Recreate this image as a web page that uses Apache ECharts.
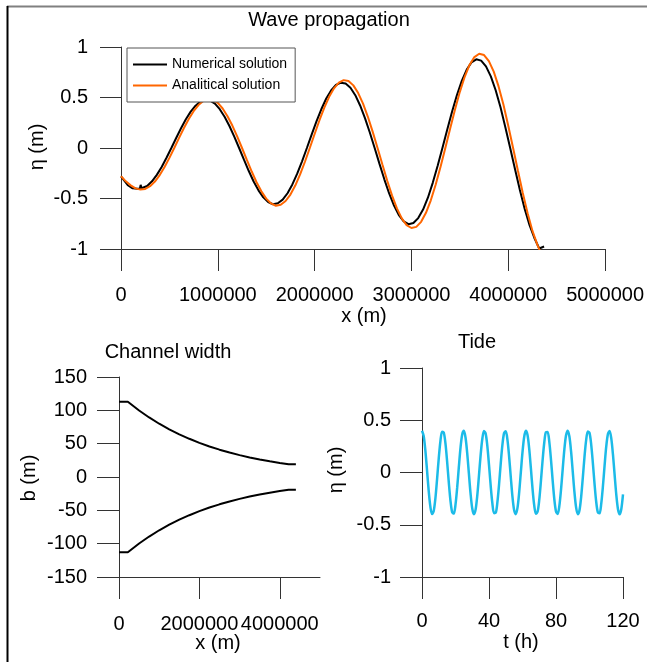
<!DOCTYPE html>
<html>
<head>
<meta charset="utf-8">
<script src="https://cdn.jsdelivr.net/npm/echarts@6/dist/echarts.min.js"></script>
<style>
html, body { margin: 0; padding: 0; background: #fff; }
#chart { width: 647px; height: 662px; }
</style>
</head>
<body>
<div id="chart"></div>
<script>
// Wave along the channel: analytical solution (x in m, eta in m)
const analyticX = [0,50000,100000,150000,200000,250000,300000,350000,400000,450000,500000,550000,600000,650000,700000,750000,800000,850000,900000,950000,1000000,1050000,1100000,1150000,1200000,1250000,1300000,1350000,1400000,1450000,1500000,1550000,1600000,1650000,1700000,1750000,1800000,1850000,1900000,1950000,2000000,2050000,2100000,2150000,2200000,2250000,2300000,2350000,2400000,2450000,2500000,2550000,2600000,2650000,2700000,2750000,2800000,2850000,2900000,2950000,3000000,3050000,3100000,3150000,3200000,3250000,3300000,3350000,3400000,3450000,3500000,3550000,3600000,3650000,3700000,3750000,3800000,3850000,3900000,3950000,4000000,4050000,4100000,4150000,4200000,4250000,4300000,4350000];
const analyticEta = [-0.280,-0.330,-0.370,-0.400,-0.412,-0.405,-0.378,-0.332,-0.268,-0.189,-0.098,0.000,0.100,0.198,0.287,0.364,0.425,0.465,0.480,0.475,0.446,0.391,0.315,0.222,0.115,0.000,-0.118,-0.233,-0.339,-0.429,-0.501,-0.549,-0.572,-0.562,-0.525,-0.461,-0.372,-0.262,-0.136,0.000,0.139,0.275,0.400,0.507,0.591,0.647,0.672,0.663,0.620,0.544,0.439,0.309,0.160,0.000,-0.164,-0.324,-0.471,-0.598,-0.697,-0.763,-0.792,-0.781,-0.731,-0.642,-0.518,-0.364,-0.189,0.000,0.194,0.382,0.556,0.705,0.822,0.900,0.933,0.920,0.860,0.756,0.610,0.430,0.220,0.000,-0.225,-0.445,-0.647,-0.821,-0.957,-1.070];

// Wave along the channel: numerical solution
const numericX = [0,70000,120000,170000,195000,203000,212000,220000,270000,320000,370000,420000,470000,520000,570000,620000,670000,720000,770000,820000,870000,920000,970000,1020000,1070000,1120000,1170000,1220000,1270000,1320000,1370000,1420000,1470000,1520000,1570000,1620000,1670000,1720000,1770000,1820000,1870000,1920000,1970000,2020000,2070000,2120000,2170000,2220000,2270000,2320000,2370000,2420000,2470000,2520000,2570000,2620000,2670000,2720000,2770000,2820000,2870000,2920000,2970000,3020000,3070000,3120000,3170000,3220000,3270000,3320000,3370000,3420000,3470000,3520000,3570000,3620000,3670000,3720000,3770000,3820000,3870000,3920000,3970000,4020000,4070000,4120000,4170000,4220000,4270000,4320000,4340000,4370000];
const numericEta = [-0.280,-0.369,-0.399,-0.403,-0.400,-0.365,-0.398,-0.398,-0.376,-0.330,-0.266,-0.188,-0.097,0.000,0.099,0.196,0.284,0.360,0.419,0.459,0.473,0.468,0.439,0.384,0.309,0.218,0.113,0.000,-0.116,-0.228,-0.332,-0.419,-0.489,-0.535,-0.557,-0.547,-0.511,-0.448,-0.361,-0.254,-0.132,0.000,0.135,0.266,0.386,0.490,0.570,0.624,0.647,0.638,0.596,0.523,0.421,0.296,0.153,0.000,-0.157,-0.310,-0.450,-0.570,-0.665,-0.727,-0.754,-0.743,-0.694,-0.610,-0.492,-0.345,-0.179,0.000,0.184,0.361,0.525,0.665,0.774,0.848,0.878,0.865,0.808,0.709,0.572,0.403,0.206,0.000,-0.210,-0.416,-0.604,-0.765,-0.891,-0.995,-1.000,-0.975];

// Channel banks (b in m)
const channelX = [0,220000,500000,750000,1000000,1250000,1500000,1750000,2000000,2250000,2500000,2750000,3000000,3250000,3500000,3750000,4000000,4220000,4400000];
const upperBank = [113,113,99.8,89.3,79.9,71.5,64.0,57.3,51.2,45.8,41.0,36.7,32.8,29.4,26.3,23.5,21.1,19.1,19.1];
const lowerBank = [-113,-113,-99.8,-89.3,-79.9,-71.5,-64.0,-57.3,-51.2,-45.8,-41.0,-36.7,-32.8,-29.4,-26.3,-23.5,-21.1,-19.1,-19.1];

// Tide at the mouth (t in h, eta in m)
const tideT = [0,1,2,3,4,5,6,7,8,9,10,11,12,13,14,15,16,17,18,19,20,21,22,23,24,25,26,27,28,29,30,31,32,33,34,35,36,37,38,39,40,41,42,43,44,45,46,47,48,49,50,51,52,53,54,55,56,57,58,59,60,61,62,63,64,65,66,67,68,69,70,71,72,73,74,75,76,77,78,79,80,81,82,83,84,85,86,87,88,89,90,91,92,93,94,95,96,97,98,99,100,101,102,103,104,105,106,107,108,109,110,111,112,113,114,115,116,117,118,119,120];
const tideEta = [0.400,0.350,0.212,0.021,-0.175,-0.327,-0.398,-0.368,-0.247,-0.063,0.136,0.301,0.391,0.383,0.279,0.105,-0.095,-0.271,-0.380,-0.393,-0.308,-0.145,0.053,0.239,0.364,0.399,0.333,0.184,-0.011,-0.203,-0.345,-0.400,-0.355,-0.221,-0.031,0.166,0.321,0.397,0.372,0.255,0.073,-0.126,-0.294,-0.389,-0.386,-0.286,-0.115,0.085,0.264,0.377,0.395,0.314,0.155,-0.043,-0.231,-0.360,-0.399,-0.339,-0.193,0.001,0.195,0.340,0.399,0.359,0.229,0.041,-0.157,-0.315,-0.395,-0.376,-0.262,-0.083,0.117,0.287,0.386,0.388,0.293,0.124,-0.075,-0.256,-0.373,-0.396,-0.320,-0.164,0.033,0.222,0.356,0.400,0.344,0.202,0.009,-0.186,-0.334,-0.399,-0.364,-0.237,-0.051,0.147,0.309,0.393,0.379,0.270,0.093,-0.107,-0.280,-0.383,-0.391,-0.300,-0.134,0.065,0.249,0.369,0.398,0.326,0.173,-0.023,-0.214,-0.351,-0.400,-0.349,-0.210];

const channelTicksX = [0,2000000,4000000];

const FONT = '"Liberation Sans", Arial, Helvetica, sans-serif';
const TICK_FONT = 20;
const AXIS_COLOR = '#333';

const zip = (xs, ys) => xs.map((x, i) => [x, ys[i]]);

function valueAxis(opts) {
  return Object.assign({
    type: 'value',
    axisLine: { show: true, onZero: false, lineStyle: { color: AXIS_COLOR, width: 1 } },
    axisTick: { show: true, inside: false, length: 22, lineStyle: { color: AXIS_COLOR, width: 1 } },
    splitLine: { show: false },
    axisLabel: { color: '#000', fontSize: TICK_FONT, fontFamily: FONT, margin: 33 }
  }, opts);
}

const tickLabel = (margin, extra) => Object.assign({ color: '#000', fontSize: TICK_FONT, fontFamily: FONT, margin: margin }, extra || {});
const plain = v => String(v);

const chart = echarts.init(document.getElementById('chart'), null, { renderer: 'canvas' });

chart.setOption({
  animation: false,
  backgroundColor: '#fff',
  grid: [
    { left: 121, top: 47, width: 485, height: 202 },
    { left: 119, top: 377, width: 201, height: 200 },
    { left: 422, top: 368, width: 201, height: 209 }
  ],
  xAxis: [
    valueAxis({ gridIndex: 0, min: 0, max: 5000000, interval: 1000000,
      axisLabel: tickLabel(36, { formatter: plain }) }),
    valueAxis({ gridIndex: 1, min: 0, max: 5000000,
      axisTick: { show: true, inside: false, length: 22, customValues: channelTicksX, lineStyle: { color: AXIS_COLOR, width: 1 } },
      axisLabel: tickLabel(37, { customValues: channelTicksX, formatter: plain }) }),
    valueAxis({ gridIndex: 2, min: 0, max: 120, interval: 40,
      axisLabel: tickLabel(34) })
  ],
  yAxis: [
    valueAxis({ gridIndex: 0, min: -1, max: 1, interval: 0.5,
      axisTick: { show: true, inside: false, length: 21, lineStyle: { color: AXIS_COLOR, width: 1 } },
      axisLabel: tickLabel(33) }),
    valueAxis({ gridIndex: 1, min: -150, max: 150, interval: 50,
      axisLabel: tickLabel(32) }),
    valueAxis({ gridIndex: 2, min: -1, max: 1, interval: 0.5,
      axisLabel: tickLabel(31) })
  ],
  legend: {
    data: ['Numerical solution', 'Analitical solution'],
    orient: 'vertical',
    left: 127,
    top: 48,
    padding: [8, 8, 8, 6],
    itemGap: 4,
    itemWidth: 34,
    itemHeight: 2,
    icon: 'rect',
    borderColor: '#555',
    borderWidth: 1,
    backgroundColor: '#fff',
    textStyle: { fontSize: 14, lineHeight: 17, fontFamily: FONT, color: '#000' }
  },
  series: [
    { name: 'Numerical solution', type: 'line', xAxisIndex: 0, yAxisIndex: 0,
      data: zip(numericX, numericEta), symbol: 'none', color: '#000',
      lineStyle: { color: '#000', width: 2 } },
    { name: 'Analitical solution', type: 'line', xAxisIndex: 0, yAxisIndex: 0,
      data: zip(analyticX, analyticEta), symbol: 'none', color: '#ff6600',
      lineStyle: { color: '#ff6600', width: 2 } },
    { name: 'upper bank', type: 'line', xAxisIndex: 1, yAxisIndex: 1,
      data: zip(channelX, upperBank), symbol: 'none',
      lineStyle: { color: '#000', width: 2 } },
    { name: 'lower bank', type: 'line', xAxisIndex: 1, yAxisIndex: 1,
      data: zip(channelX, lowerBank), symbol: 'none',
      lineStyle: { color: '#000', width: 2 } },
    { name: 'tide', type: 'line', xAxisIndex: 2, yAxisIndex: 2,
      data: zip(tideT, tideEta), symbol: 'none', smooth: 0.3,
      lineStyle: { color: '#1cbbe8', width: 2.5 } }
  ],
  graphic: [
    // frame edges
    { type: 'line', silent: true, shape: { x1: 7, y1: 6.5, x2: 647, y2: 6.5 }, style: { stroke: '#808080', lineWidth: 2 } },
    { type: 'line', silent: true, shape: { x1: 7.5, y1: 6, x2: 7.5, y2: 662 }, style: { stroke: '#000', lineWidth: 2 } },
    // panel titles
    { type: 'text', x: 329, y: 20, style: { text: 'Wave propagation', font: '20px ' + FONT, fill: '#000', align: 'center', verticalAlign: 'middle' } },
    { type: 'text', x: 168, y: 352, style: { text: 'Channel width', font: '20px ' + FONT, fill: '#000', align: 'center', verticalAlign: 'middle' } },
    { type: 'text', x: 477, y: 342, style: { text: 'Tide', font: '20px ' + FONT, fill: '#000', align: 'center', verticalAlign: 'middle' } },
    // axis names
    { type: 'text', x: 364, y: 316, style: { text: 'x (m)', font: '20px ' + FONT, fill: '#000', align: 'center', verticalAlign: 'middle' } },
    { type: 'text', x: 37, y: 147, rotation: Math.PI / 2, style: { text: 'η (m)', font: '20px ' + FONT, fill: '#000', align: 'center', verticalAlign: 'middle' } },
    { type: 'text', x: 218, y: 643, style: { text: 'x (m)', font: '20px ' + FONT, fill: '#000', align: 'center', verticalAlign: 'middle' } },
    { type: 'text', x: 29, y: 478, rotation: Math.PI / 2, style: { text: 'b (m)', font: '20px ' + FONT, fill: '#000', align: 'center', verticalAlign: 'middle' } },
    { type: 'text', x: 521, y: 642, style: { text: 't (h)', font: '20px ' + FONT, fill: '#000', align: 'center', verticalAlign: 'middle' } },
    { type: 'text', x: 336, y: 470, rotation: Math.PI / 2, style: { text: 'η (m)', font: '20px ' + FONT, fill: '#000', align: 'center', verticalAlign: 'middle' } }
  ]
});
</script>
</body>
</html>
